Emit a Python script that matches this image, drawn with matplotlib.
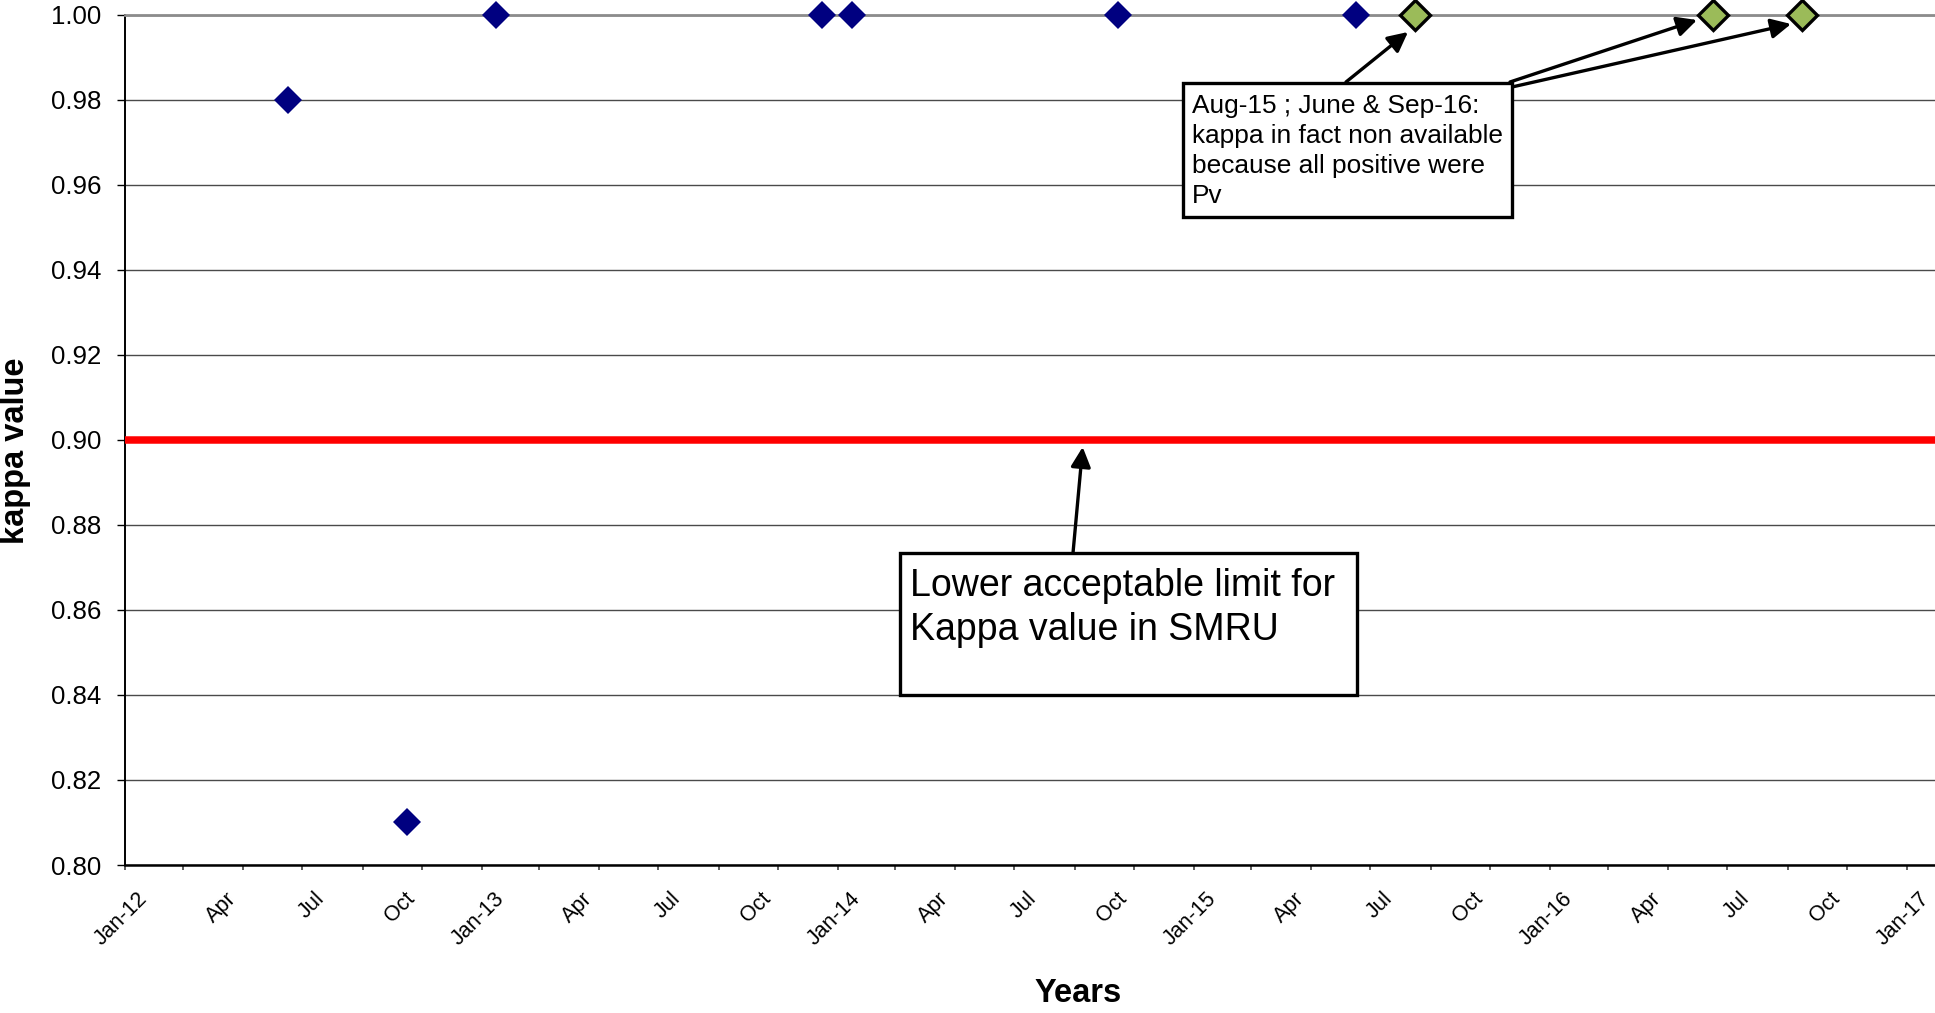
import matplotlib
matplotlib.use('Agg')
import matplotlib.pyplot as plt
import matplotlib.transforms as mtransforms
import matplotlib.dates as mdates
from matplotlib.patches import Rectangle
import pandas as pd

plt.rcParams['font.family'] = ['Liberation Sans', 'DejaVu Sans']

# ---------------- data ----------------
blue_dates = ['2012-06-16', '2012-10-16', '2013-01-16', '2013-12-16',
              '2014-01-16', '2014-10-15', '2015-06-16']
blue_kappa = [0.98, 0.81, 1.00, 1.00, 1.00, 1.00, 1.00]

green_dates = ['2015-08-16', '2016-06-16', '2016-09-16']
green_kappa = [1.00, 1.00, 1.00]

lower_limit = 0.90

tick_dates = ['2012-01-01', '2012-04-01', '2012-07-01', '2012-10-01',
              '2013-01-01', '2013-04-01', '2013-07-01', '2013-10-01',
              '2014-01-01', '2014-04-01', '2014-07-01', '2014-10-01',
              '2015-01-01', '2015-04-01', '2015-07-01', '2015-10-01',
              '2016-01-01', '2016-04-01', '2016-07-01', '2016-10-01',
              '2017-01-01']
tick_labels = ['Jan-12', 'Apr', 'Jul', 'Oct',
               'Jan-13', 'Apr', 'Jul', 'Oct',
               'Jan-14', 'Apr', 'Jul', 'Oct',
               'Jan-15', 'Apr', 'Jul', 'Oct',
               'Jan-16', 'Apr', 'Jul', 'Oct',
               'Jan-17']
y_ticks = [0.80, 0.82, 0.84, 0.86, 0.88, 0.90, 0.92, 0.94, 0.96, 0.98, 1.00]

# ---------------- figure ----------------
W, H, DPI = 1935, 1013, 100
fig = plt.figure(figsize=(W / DPI, H / DPI), dpi=DPI)
ax_left, ax_top, ax_bottom = 124.7, 14.7, 865.0
ax = fig.add_axes([ax_left / W, 1 - ax_bottom / H, 1 - ax_left / W,
                   (ax_bottom - ax_top) / H])

bd = pd.to_datetime(blue_dates)
gd = pd.to_datetime(green_dates)

ax.set_ylim(0.80, 1.00)
ax.set_xlim(pd.Timestamp('2012-01-01'), pd.Timestamp('2017-01-30'))

# grid
ax.set_yticks(y_ticks)
ax.set_yticklabels([f'{v:.2f}' for v in y_ticks])
ax.yaxis.grid(True, color='#4a4a4a', lw=1.0, zorder=1)
ax.set_axisbelow(True)

# red limit line
ax.axhline(lower_limit, color='#ff0000', lw=5.4, zorder=3)

# markers
ax.plot(bd, blue_kappa, ls='none', marker='D', ms=13.8, color='#000080',
        mec='#000080', mew=0, zorder=5, clip_on=False)
ax.plot(gd, green_kappa, ls='none', marker='D', ms=15.5, mfc='#9BBB59',
        mec='black', mew=2.4, zorder=6, clip_on=False)

# x ticks
ax.set_xticks(pd.to_datetime(tick_dates))
ax.set_xticklabels(tick_labels)
ax.xaxis.set_minor_locator(mdates.MonthLocator(bymonth=[1, 3, 5, 7, 9, 11]))
ax.xaxis.remove_overlapping_locs = False
ax.tick_params(axis='x', which='major', length=0, pad=16.5, labelsize=15.5)
ax.tick_params(axis='x', which='minor', length=3.8, width=1.1,
               direction='out', color='#333333')
ax.tick_params(axis='y', which='major', length=5.8, width=1.0,
               direction='out', color='black', pad=11.0, labelsize=18.6)
for lab in ax.get_xticklabels():
    lab.set_rotation(45)
    lab.set_ha('right')
    lab.set_va('top')
    lab.set_rotation_mode('anchor')
    lab.set_transform(lab.get_transform() + mtransforms.ScaledTranslation(
        12 / DPI, 0, fig.dpi_scale_trans))

# spines
ax.spines['right'].set_visible(False)
ax.spines['top'].set_color('#8c8c8c')
ax.spines['top'].set_linewidth(2.0)
ax.spines['left'].set_color('black')
ax.spines['left'].set_linewidth(1.4)
ax.spines['bottom'].set_color('black')
ax.spines['bottom'].set_linewidth(1.8)

# axis titles
fig.text(16 / W, 1 - 451 / H, 'kappa value', rotation=90, fontsize=23.5,
         fontweight='bold', ha='center', va='center')
fig.text(1078 / W, 1 - 1001.7 / H, 'Years', fontsize=23.5,
         fontweight='bold', ha='center', va='baseline')


def fp(x, y):
    return (x / W, 1 - y / H)


arrow_kw = dict(arrowstyle='-|>,head_length=0.6,head_width=0.3',
                mutation_scale=20, lw=2.4, color='black',
                shrinkA=0, shrinkB=0)

# --- annotation 1: lower limit ---
bx1 = (900, 553, 1356.7, 695)
fig.patches.append(Rectangle(fp(bx1[0], bx1[3]), (bx1[2] - bx1[0]) / W,
                             (bx1[3] - bx1[1]) / H, transform=fig.transFigure,
                             facecolor='white', edgecolor='black', lw=2.4,
                             zorder=4))
fig.text(*fp(910, 567.5), 'Lower acceptable limit for\nKappa value in SMRU',
         fontsize=27, ha='left', va='top', linespacing=1.3, zorder=5)
ax.annotate('', xy=fp(1082.7, 447), xycoords='figure fraction',
            xytext=fp(1073, 553), textcoords='figure fraction',
            arrowprops=arrow_kw, zorder=7)

# --- annotation 2: non available kappa ---
bx2 = (1182.7, 83.3, 1512.3, 216.7)
fig.patches.append(Rectangle(fp(bx2[0], bx2[3]), (bx2[2] - bx2[0]) / W,
                             (bx2[3] - bx2[1]) / H, transform=fig.transFigure,
                             facecolor='white', edgecolor='black', lw=2.4,
                             zorder=4))
fig.text(*fp(1192, 94.5),
         'Aug-15 ; June & Sep-16:\nkappa in fact non available\n'
         'because all positive were\nPv',
         fontsize=18.9, ha='left', va='top', linespacing=1.3, zorder=5)
for tail, tip in [((1346, 82), (1408, 32)),
                  ((1510, 82), (1697, 20)),
                  ((1512, 87), (1791, 24))]:
    ax.annotate('', xy=fp(*tip), xycoords='figure fraction',
                xytext=fp(*tail), textcoords='figure fraction',
                arrowprops=arrow_kw, zorder=7)

fig.savefig('out.png', dpi=DPI)
